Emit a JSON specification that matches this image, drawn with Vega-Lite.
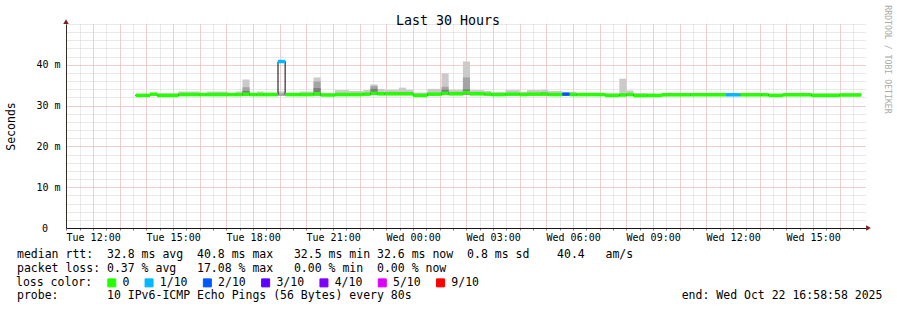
{
  "$schema": "https://vega.github.io/schema/vega-lite/v6.json",
  "width": 800,
  "height": 204,
  "autosize": {"type": "none"},
  "padding": {"left": 66, "top": 24, "right": 31, "bottom": 82},
  "background": "#ffffff",
  "config": {"view": {"stroke": null}, "font": "DejaVu Sans Mono"},
  "datasets": {
    "steps": [
      {"t0":"2025-10-21T13:36:00Z","t1":"2025-10-21T14:08:00Z","med":32.5,"loss":"0","lo":32.3,"s1":32.9,"s2":null,"s3":null},
      {"t0":"2025-10-21T14:08:00Z","t1":"2025-10-21T14:24:00Z","med":32.8,"loss":"0","lo":32.5,"s1":33.0,"s2":null,"s3":null},
      {"t0":"2025-10-21T14:24:00Z","t1":"2025-10-21T15:12:00Z","med":32.5,"loss":"0","lo":32.3,"s1":33.0,"s2":null,"s3":null},
      {"t0":"2025-10-21T15:12:00Z","t1":"2025-10-21T16:00:00Z","med":32.7,"loss":"0","lo":32.4,"s1":33.45,"s2":null,"s3":null},
      {"t0":"2025-10-21T16:00:00Z","t1":"2025-10-21T16:16:00Z","med":32.7,"loss":"0","lo":32.4,"s1":33.0,"s2":null,"s3":null},
      {"t0":"2025-10-21T16:16:00Z","t1":"2025-10-21T17:04:00Z","med":32.7,"loss":"0","lo":32.4,"s1":33.45,"s2":null,"s3":null},
      {"t0":"2025-10-21T17:04:00Z","t1":"2025-10-21T17:20:00Z","med":32.7,"loss":"0","lo":32.4,"s1":33.0,"s2":null,"s3":null},
      {"t0":"2025-10-21T17:20:00Z","t1":"2025-10-21T17:36:00Z","med":32.7,"loss":"0","lo":32.4,"s1":33.45,"s2":null,"s3":null},
      {"t0":"2025-10-21T17:36:00Z","t1":"2025-10-21T17:52:00Z","med":32.8,"loss":"0","lo":32.4,"s1":36.4,"s2":34.5,"s3":33.6},
      {"t0":"2025-10-21T17:52:00Z","t1":"2025-10-21T18:08:00Z","med":32.7,"loss":"0","lo":32.4,"s1":33.0,"s2":null,"s3":null},
      {"t0":"2025-10-21T18:08:00Z","t1":"2025-10-21T18:24:00Z","med":32.7,"loss":"0","lo":32.4,"s1":33.45,"s2":null,"s3":null},
      {"t0":"2025-10-21T18:24:00Z","t1":"2025-10-21T18:56:00Z","med":32.7,"loss":"0","lo":32.4,"s1":33.2,"s2":null,"s3":null},
      {"t0":"2025-10-21T18:56:00Z","t1":"2025-10-21T19:12:00Z","med":40.8,"loss":"1/10","lo":32.4,"s1":33.5,"s2":33.0,"s3":null},
      {"t0":"2025-10-21T19:12:00Z","t1":"2025-10-21T19:44:00Z","med":32.7,"loss":"0","lo":32.4,"s1":33.0,"s2":null,"s3":null},
      {"t0":"2025-10-21T19:44:00Z","t1":"2025-10-21T20:16:00Z","med":32.7,"loss":"0","lo":32.4,"s1":33.45,"s2":null,"s3":null},
      {"t0":"2025-10-21T20:16:00Z","t1":"2025-10-21T20:32:00Z","med":32.9,"loss":"0","lo":32.5,"s1":36.9,"s2":35.9,"s3":34.3},
      {"t0":"2025-10-21T20:32:00Z","t1":"2025-10-21T21:04:00Z","med":32.6,"loss":"0","lo":32.4,"s1":33.0,"s2":null,"s3":null},
      {"t0":"2025-10-21T21:04:00Z","t1":"2025-10-21T21:36:00Z","med":32.7,"loss":"0","lo":32.4,"s1":33.8,"s2":null,"s3":null},
      {"t0":"2025-10-21T21:36:00Z","t1":"2025-10-21T22:08:00Z","med":32.7,"loss":"0","lo":32.4,"s1":33.6,"s2":null,"s3":null},
      {"t0":"2025-10-21T22:08:00Z","t1":"2025-10-21T22:24:00Z","med":32.8,"loss":"0","lo":32.5,"s1":33.8,"s2":null,"s3":null},
      {"t0":"2025-10-21T22:24:00Z","t1":"2025-10-21T22:40:00Z","med":33.0,"loss":"0","lo":32.6,"s1":35.2,"s2":34.8,"s3":34.1},
      {"t0":"2025-10-21T22:40:00Z","t1":"2025-10-21T22:56:00Z","med":32.9,"loss":"0","lo":32.5,"s1":34.1,"s2":null,"s3":null},
      {"t0":"2025-10-21T22:56:00Z","t1":"2025-10-21T23:28:00Z","med":32.9,"loss":"0","lo":32.5,"s1":33.9,"s2":null,"s3":null},
      {"t0":"2025-10-21T23:28:00Z","t1":"2025-10-21T23:44:00Z","med":32.9,"loss":"0","lo":32.5,"s1":34.4,"s2":null,"s3":null},
      {"t0":"2025-10-21T23:44:00Z","t1":"2025-10-22T00:00:00Z","med":32.9,"loss":"0","lo":32.5,"s1":33.9,"s2":null,"s3":null},
      {"t0":"2025-10-22T00:00:00Z","t1":"2025-10-22T00:32:00Z","med":32.5,"loss":"0","lo":32.2,"s1":33.2,"s2":null,"s3":null},
      {"t0":"2025-10-22T00:32:00Z","t1":"2025-10-22T01:04:00Z","med":32.8,"loss":"0","lo":32.5,"s1":34.1,"s2":null,"s3":null},
      {"t0":"2025-10-22T01:04:00Z","t1":"2025-10-22T01:20:00Z","med":33.0,"loss":"0","lo":32.6,"s1":37.9,"s2":34.6,"s3":33.9},
      {"t0":"2025-10-22T01:20:00Z","t1":"2025-10-22T01:52:00Z","med":32.9,"loss":"0","lo":32.5,"s1":33.9,"s2":null,"s3":null},
      {"t0":"2025-10-22T01:52:00Z","t1":"2025-10-22T02:08:00Z","med":33.2,"loss":"0","lo":32.7,"s1":40.8,"s2":36.9,"s3":34.0},
      {"t0":"2025-10-22T02:08:00Z","t1":"2025-10-22T02:40:00Z","med":32.9,"loss":"0","lo":32.5,"s1":33.8,"s2":null,"s3":null},
      {"t0":"2025-10-22T02:40:00Z","t1":"2025-10-22T02:56:00Z","med":32.8,"loss":"0","lo":32.5,"s1":33.6,"s2":null,"s3":null},
      {"t0":"2025-10-22T02:56:00Z","t1":"2025-10-22T03:28:00Z","med":32.7,"loss":"0","lo":32.4,"s1":33.3,"s2":null,"s3":null},
      {"t0":"2025-10-22T03:28:00Z","t1":"2025-10-22T04:00:00Z","med":32.8,"loss":"0","lo":32.5,"s1":33.8,"s2":null,"s3":null},
      {"t0":"2025-10-22T04:00:00Z","t1":"2025-10-22T04:16:00Z","med":32.7,"loss":"0","lo":32.4,"s1":33.4,"s2":null,"s3":null},
      {"t0":"2025-10-22T04:16:00Z","t1":"2025-10-22T04:48:00Z","med":32.8,"loss":"0","lo":32.5,"s1":33.8,"s2":null,"s3":null},
      {"t0":"2025-10-22T04:48:00Z","t1":"2025-10-22T05:04:00Z","med":32.8,"loss":"0","lo":32.5,"s1":33.9,"s2":33.3,"s3":null},
      {"t0":"2025-10-22T05:04:00Z","t1":"2025-10-22T05:36:00Z","med":32.7,"loss":"0","lo":32.4,"s1":33.6,"s2":null,"s3":null},
      {"t0":"2025-10-22T05:36:00Z","t1":"2025-10-22T05:52:00Z","med":32.8,"loss":"2/10","lo":32.5,"s1":33.3,"s2":null,"s3":null},
      {"t0":"2025-10-22T05:52:00Z","t1":"2025-10-22T06:08:00Z","med":32.7,"loss":"0","lo":32.4,"s1":33.4,"s2":null,"s3":null},
      {"t0":"2025-10-22T06:08:00Z","t1":"2025-10-22T07:12:00Z","med":32.7,"loss":"0","lo":32.4,"s1":33.1,"s2":null,"s3":null},
      {"t0":"2025-10-22T07:12:00Z","t1":"2025-10-22T07:44:00Z","med":32.5,"loss":"0","lo":32.3,"s1":33.0,"s2":null,"s3":null},
      {"t0":"2025-10-22T07:44:00Z","t1":"2025-10-22T08:00:00Z","med":32.6,"loss":"0","lo":32.3,"s1":36.6,"s2":null,"s3":null},
      {"t0":"2025-10-22T08:00:00Z","t1":"2025-10-22T08:16:00Z","med":32.7,"loss":"0","lo":32.4,"s1":33.7,"s2":null,"s3":null},
      {"t0":"2025-10-22T08:16:00Z","t1":"2025-10-22T08:48:00Z","med":32.45,"loss":"0","lo":32.3,"s1":33.1,"s2":null,"s3":null},
      {"t0":"2025-10-22T08:48:00Z","t1":"2025-10-22T09:20:00Z","med":32.5,"loss":"0","lo":32.3,"s1":32.9,"s2":null,"s3":null},
      {"t0":"2025-10-22T09:20:00Z","t1":"2025-10-22T10:24:00Z","med":32.65,"loss":"0","lo":32.4,"s1":33.1,"s2":null,"s3":null},
      {"t0":"2025-10-22T10:24:00Z","t1":"2025-10-22T11:44:00Z","med":32.65,"loss":"0","lo":32.4,"s1":32.9,"s2":null,"s3":null},
      {"t0":"2025-10-22T11:44:00Z","t1":"2025-10-22T12:16:00Z","med":32.65,"loss":"1/10","lo":32.4,"s1":32.9,"s2":null,"s3":null},
      {"t0":"2025-10-22T12:16:00Z","t1":"2025-10-22T13:04:00Z","med":32.65,"loss":"0","lo":32.4,"s1":32.9,"s2":null,"s3":null},
      {"t0":"2025-10-22T13:04:00Z","t1":"2025-10-22T13:20:00Z","med":32.65,"loss":"0","lo":32.4,"s1":33.1,"s2":null,"s3":null},
      {"t0":"2025-10-22T13:20:00Z","t1":"2025-10-22T13:52:00Z","med":32.5,"loss":"0","lo":32.3,"s1":32.9,"s2":null,"s3":null},
      {"t0":"2025-10-22T13:52:00Z","t1":"2025-10-22T14:56:00Z","med":32.65,"loss":"0","lo":32.4,"s1":33.1,"s2":null,"s3":null},
      {"t0":"2025-10-22T14:56:00Z","t1":"2025-10-22T16:00:00Z","med":32.5,"loss":"0","lo":32.3,"s1":33.0,"s2":null,"s3":null},
      {"t0":"2025-10-22T16:00:00Z","t1":"2025-10-22T16:48:00Z","med":32.6,"loss":"0","lo":32.4,"s1":33.0,"s2":null,"s3":null}
    ]
  },
  "data": {"name": "steps"},
  "layer": [
    {
      "mark": {"type": "rect", "color": "#cacaca"},
      "encoding": {
        "x": {"field": "t0", "type": "temporal",
          "scale": {"type": "utc", "domain": [1761044338000, 1761152338000]},
          "axis": {"orient": "bottom", "grid": true, "gridColor": "#d2d2d2", "gridDash": [1,1], "gridWidth": 1, "tickCount": 60, "labels": false,
            "ticks": true, "tickSize": 2, "tickColor": "#8a7070", "domain": false,
            "title": "probe:\u00a0\u00a0\u00a0\u00a0\u00a0\u00a0\u00a010 IPv6-ICMP Echo Pings (56 Bytes) every 80s\u00a0\u00a0\u00a0\u00a0\u00a0\u00a0\u00a0\u00a0\u00a0\u00a0\u00a0\u00a0\u00a0\u00a0\u00a0\u00a0\u00a0\u00a0\u00a0\u00a0\u00a0\u00a0\u00a0\u00a0\u00a0\u00a0\u00a0\u00a0\u00a0\u00a0\u00a0\u00a0\u00a0\u00a0\u00a0\u00a0\u00a0\u00a0\u00a0end: Wed Oct 22 16:58:58 2025",
            "titleFont": "DejaVu Sans Mono", "titleFontSize": 11.5, "titleFontWeight": "normal", "titleColor": "#000000",
            "titleAlign": "left", "titleBaseline": "alphabetic", "titleX": -49.5, "titleY": 70.5, "titleLimit": 2000}},
        "x2": {"field": "t1"},
        "y": {"field": "lo", "type": "quantitative", "scale": {"domain": [0, 50], "nice": false, "zero": false},
          "axis": {"orient": "left", "grid": true, "gridColor": "#d2d2d2", "gridDash": [1,1], "gridWidth": 1, "values": [2,4,6,8,10,12,14,16,18,20,22,24,26,28,30,32,34,36,38,40,42,44,46,48,50], "labels": false, "ticks": false, "domain": false, "title": null}},
        "y2": {"field": "s1"}
      }
    },
    {
      "transform": [{"filter": "datum.s2 != null"}],
      "mark": {"type": "rect", "color": "#a4a4a4"},
      "encoding": {
        "x": {"field": "t0", "type": "temporal",
          "scale": {"type": "utc", "domain": [1761044338000, 1761152338000]},
          "axis": {"orient": "bottom", "grid": true, "gridColor": "#f2b2b2", "gridDash": [1,1], "gridWidth": 1, "tickCount": 30, "labels": false, "ticks": false, "domain": false, "title": null}},
        "x2": {"field": "t1"},
        "y": {"field": "lo", "type": "quantitative", "scale": {"domain": [0, 50], "nice": false, "zero": false},
          "axis": {"orient": "left", "grid": true, "gridColor": "#f2b2b2", "gridDash": [1,1], "gridWidth": 1, "values": [10,20,30,40], "labels": false, "ticks": false, "domain": false, "title": null}},
        "y2": {"field": "s2"}
      }
    },
    {
      "transform": [{"filter": "datum.s3 != null"}],
      "mark": {"type": "rect", "color": "#7e7e7e"},
      "encoding": {
        "x": {"field": "t0", "type": "temporal",
          "scale": {"type": "utc", "domain": [1761044338000, 1761152338000]},
          "axis": {"orient": "bottom", "grid": false, "tickCount": 10, "format": "%a %H:%M",
            "labelFont": "DejaVu Sans Mono", "labelFontSize": 10, "labelColor": "#000000", "labelBaseline": "alphabetic", "labelPadding": 12.5, "labelFlush": false, "labelOverlap": false,
            "ticks": false, "tickSize": 0, "domain": true, "domainColor": "#1a1a1a", "domainWidth": 1,
            "title": ["median rtt:\u00a0\u00a032.8 ms avg\u00a0\u00a040.8 ms max\u00a0\u00a0\u00a032.5 ms min 32.6 ms now\u00a0\u00a00.8 ms sd\u00a0\u00a0\u00a0\u00a040.4\u00a0\u00a0\u00a0am/s",
                      "packet loss: 0.37 % avg\u00a0\u00a0\u00a017.08 % max\u00a0\u00a0\u00a00.00 % min\u00a0\u00a00.00 % now"],
            "titleFont": "DejaVu Sans Mono", "titleFontSize": 11.5, "titleFontWeight": "normal", "titleColor": "#000000",
            "titleAlign": "left", "titleBaseline": "alphabetic", "titleX": -49.5, "titleY": 29.5, "titleLineHeight": 13.67, "titleLimit": 2000}},
        "x2": {"field": "t1"},
        "y": {"field": "lo", "type": "quantitative", "scale": {"domain": [0, 50], "nice": false, "zero": false},
          "axis": {"orient": "left", "grid": false, "values": [0,10,20,30,40],
            "labelExpr": "datum.value == 0 ? '0' : datum.value + ' m'",
            "labelFont": "DejaVu Sans Mono", "labelFontSize": 10, "labelColor": "#000000", "labelBaseline": "middle",
            "labelPadding": {"condition": {"test": "datum.value == 0", "value": 18.5}, "value": 6},
            "ticks": false, "tickSize": 0, "domain": true, "domainColor": "#3a2a2a", "domainWidth": 1,
            "title": "Seconds", "titleFont": "DejaVu Sans Mono", "titleFontSize": 11.5, "titleFontWeight": "normal", "titleColor": "#000000",
            "titleX": -55, "titleY": 102, "titleAngle": -90, "titleAlign": "center", "titleBaseline": "middle"}},
        "y2": {"field": "s3"}
      }
    },
    {
      "mark": {"type": "line", "interpolate": "step-after", "color": "#000000", "strokeWidth": 1},
      "encoding": {
        "x": {"field": "t0", "type": "temporal",
          "scale": {"type": "utc", "domain": [1761044338000, 1761152338000]},
          "axis": {"orient": "top", "grid": false, "labels": false, "ticks": false, "domain": false,
            "title": "Last 30 Hours", "titleFont": "DejaVu Sans Mono", "titleFontSize": 13.3, "titleFontWeight": "normal", "titleColor": "#000000",
            "titleX": 381.5, "titleY": 0, "titleAlign": "center", "titleBaseline": "alphabetic"}},
        "y": {"field": "med", "type": "quantitative", "scale": {"domain": [0, 50], "nice": false, "zero": false},
          "axis": {"orient": "right", "grid": false, "labels": false, "ticks": false, "domain": false,
            "title": "RRDTOOL / TOBI OETIKER", "titleFont": "DejaVu Sans Mono", "titleFontSize": 8.2, "titleFontWeight": "normal", "titleColor": "#aaaaaa",
            "titleAngle": 90, "titleX": 20.7, "titleY": 35, "titleAlign": "center", "titleBaseline": "middle"}}
      }
    },
    {
      "mark": {"type": "rect", "stroke": "#000000", "strokeWidth": 1},
      "encoding": {
        "x": {"field": "t0", "type": "temporal",
          "scale": {"type": "utc", "domain": [1761044338000, 1761152338000]},
          "axis": null},
        "x2": {"field": "t1"},
        "y": {"field": "med", "type": "quantitative", "scale": {"domain": [0, 50], "nice": false, "zero": false}, "axis": null},
        "y2": {"field": "med"},
        "fill": {"field": "loss", "type": "nominal",
          "scale": {"domain": ["0","1/10","2/10","3/10","4/10","5/10","9/10"], "range": ["#26ff00","#00b8ff","#0059ff","#5e00ff","#7e00ff","#dd00ff","#ff0000"]},
          "legend": {"orient": "none", "legendX": -50, "legendY": 253, "direction": "horizontal", "padding": 0, "offset": 0,
            "title": "loss color:", "titleOrient": "left", "titleFont": "DejaVu Sans Mono", "titleFontSize": 11.5, "titleFontWeight": "normal", "titleColor": "#000000", "titlePadding": 13,
            "labelFont": "DejaVu Sans Mono", "labelFontSize": 11.5, "labelColor": "#000000", "labelOffset": 5, "columnPadding": 12.3,
            "symbolType": "square", "symbolSize": 64, "symbolStrokeColor": "#000000", "symbolStrokeWidth": 1}}
      }
    },
    {
      "mark": {"type": "rule", "strokeWidth": 3.5},
      "encoding": {
        "x": {"field": "t0", "type": "temporal",
          "scale": {"type": "utc", "domain": [1761044338000, 1761152338000]},
          "axis": null},
        "x2": {"field": "t1"},
        "y": {"field": "med", "type": "quantitative", "scale": {"domain": [0, 50], "nice": false, "zero": false}, "axis": null},
        "stroke": {"field": "loss", "type": "nominal",
          "scale": {"domain": ["0","1/10","2/10","3/10","4/10","5/10","9/10"], "range": ["#26ff00","#00b8ff","#0059ff","#5e00ff","#7e00ff","#dd00ff","#ff0000"]},
          "legend": null}
      }
    },
    {
      "data": {"values": [{"k": "x-axis arrow"}]},
      "mark": {"type": "point", "shape": "triangle-right", "filled": true, "color": "#7f1f1f", "size": 30, "opacity": 1},
      "encoding": {
        "x": {"datum": 1761152675000, "type": "temporal",
          "scale": {"type": "utc", "domain": [1761044338000, 1761152338000]}, "axis": null},
        "y": {"datum": 0, "type": "quantitative", "scale": {"domain": [0, 50], "nice": false, "zero": false}, "axis": null}
      }
    },
    {
      "data": {"values": [{"k": "y-axis arrow"}]},
      "mark": {"type": "point", "shape": "triangle-up", "filled": true, "color": "#7f1f1f", "size": 30, "opacity": 1},
      "encoding": {
        "x": {"datum": 1761044338000, "type": "temporal",
          "scale": {"type": "utc", "domain": [1761044338000, 1761152338000]}, "axis": null},
        "y": {"datum": 50.6, "type": "quantitative", "scale": {"domain": [0, 50], "nice": false, "zero": false}, "axis": null}
      }
    }
  ],
  "resolve": {"axis": {"x": "independent", "y": "independent"}}
}
